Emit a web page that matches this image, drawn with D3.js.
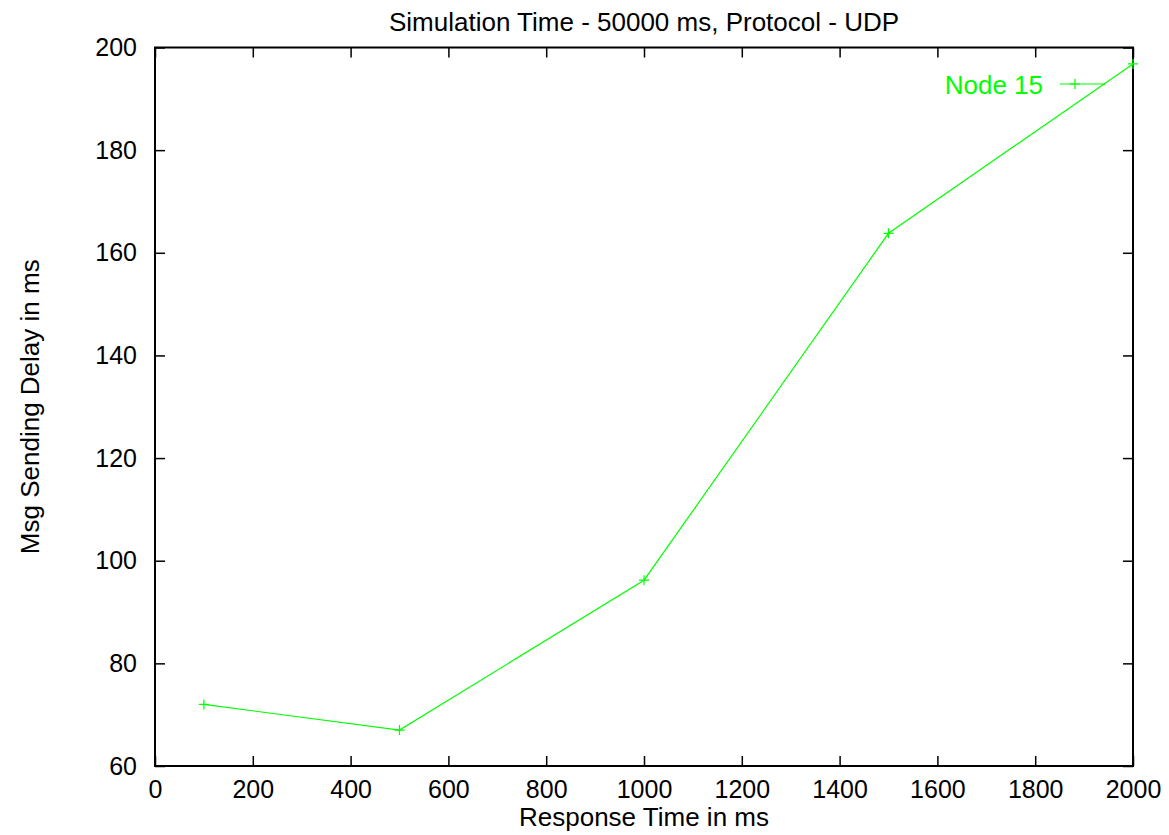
<!DOCTYPE html>
<html>
  <head>
    <meta charset="utf-8">
    <title>Msg Sending Delay</title>
<style>
  body { margin: 0; background-color: #fff; }
  svg text { font-family: "Liberation Sans", Arial, sans-serif; }
</style>
  </head>
  <body>
    <div id="viz"></div>

  <script src="https://cdn.jsdelivr.net/npm/d3@7"></script>
  <script>
    // data
    var responseTimes = [100, 500, 1000, 1500, 2000]
    var sendDelays = [72, 67, 96.2, 163.8, 196.8]
    var xTicks = [0, 200, 400, 600, 800, 1000, 1200, 1400, 1600, 1800, 2000]
    var yTicks = [60, 80, 100, 120, 140, 160, 180, 200]
    var seriesName = "Node 15"

    var W = 1169, H = 835
    var margin = {top: 47.5, right: 36, bottom: 69, left: 155}
    var width = W - margin.left - margin.right,
        height = H - margin.top - margin.bottom

    var green = "#00ff00"

    var x = d3.scaleLinear().domain([0, 2000]).range([0, width])
    var y = d3.scaleLinear().domain([60, 200]).range([height, 0])

    var svg = d3.select("#viz").append("svg")
        .attr("width", W)
        .attr("height", H)

    var g = svg.append("g")
        .attr("transform", "translate(" + margin.left + "," + margin.top + ")")

    // ticks on all four sides, pointing inward (gnuplot style)
    function styleAxis(sel) {
      sel.select(".domain").remove()
      sel.selectAll(".tick line").attr("stroke", "#000").attr("stroke-width", 1.5)
      sel.selectAll(".tick text").attr("font-size", 25).attr("fill", "#000")
        .style("font-family", "'Liberation Sans', Arial, sans-serif")
    }

    g.append("g")
        .attr("transform", "translate(0," + height + ")")
        .call(d3.axisBottom(x).tickValues(xTicks).tickSize(-10).tickPadding(14).tickFormat(d3.format("d")))
        .call(styleAxis)
    g.append("g")
        .call(d3.axisTop(x).tickValues(xTicks).tickSize(-10).tickFormat(""))
        .call(styleAxis)
    g.append("g")
        .call(d3.axisLeft(y).tickValues(yTicks).tickSize(-10).tickPadding(18))
        .call(styleAxis)
    g.append("g")
        .attr("transform", "translate(" + width + ",0)")
        .call(d3.axisRight(y).tickValues(yTicks).tickSize(-10).tickFormat(""))
        .call(styleAxis)

    // border
    g.append("rect")
        .attr("width", width)
        .attr("height", height)
        .attr("fill", "none")
        .attr("stroke", "#000")
        .attr("stroke-width", 2)

    var pts = responseTimes.map(function(d, i) { return [d, sendDelays[i]] })

    var line = d3.line()
        .x(function(d) { return x(d[0]) })
        .y(function(d) { return y(d[1]) })

    g.append("path")
        .datum(pts)
        .attr("fill", "none")
        .attr("stroke", green)
        .attr("stroke-width", 1.2)
        .attr("d", line)

    function plus(sel, cx, cy) {
      sel.append("path")
        .attr("d", "M" + (cx - 5) + "," + cy + "H" + (cx + 5) + "M" + cx + "," + (cy - 5) + "V" + (cy + 5))
        .attr("stroke", green)
        .attr("stroke-width", 1.2)
    }

    pts.forEach(function(d) { plus(g, x(d[0]), y(d[1])) })

    // legend
    var lg = svg.append("g")
    lg.append("text")
        .attr("x", 1043)
        .attr("y", 85)
        .attr("dy", "0.35em")
        .attr("text-anchor", "end")
        .attr("font-size", 26)
        .attr("fill", green)
        .text(seriesName)
    lg.append("line")
        .attr("x1", 1060).attr("x2", 1106)
        .attr("y1", 84).attr("y2", 84)
        .attr("stroke", green)
        .attr("stroke-width", 1.2)
    plus(lg, 1075, 84)

    // titles
    svg.append("text")
        .attr("x", margin.left + width / 2)
        .attr("y", 31)
        .attr("text-anchor", "middle")
        .attr("font-size", 26)
        .text("Simulation Time - 50000 ms, Protocol - UDP")

    svg.append("text")
        .attr("x", margin.left + width / 2)
        .attr("y", 826)
        .attr("text-anchor", "middle")
        .attr("font-size", 26)
        .text("Response Time in ms")

    svg.append("text")
        .attr("transform", "translate(39," + (margin.top + height / 2) + ") rotate(-90)")
        .attr("text-anchor", "middle")
        .attr("font-size", 26)
        .text("Msg Sending Delay in ms")

  </script>
  </body>
</html>
